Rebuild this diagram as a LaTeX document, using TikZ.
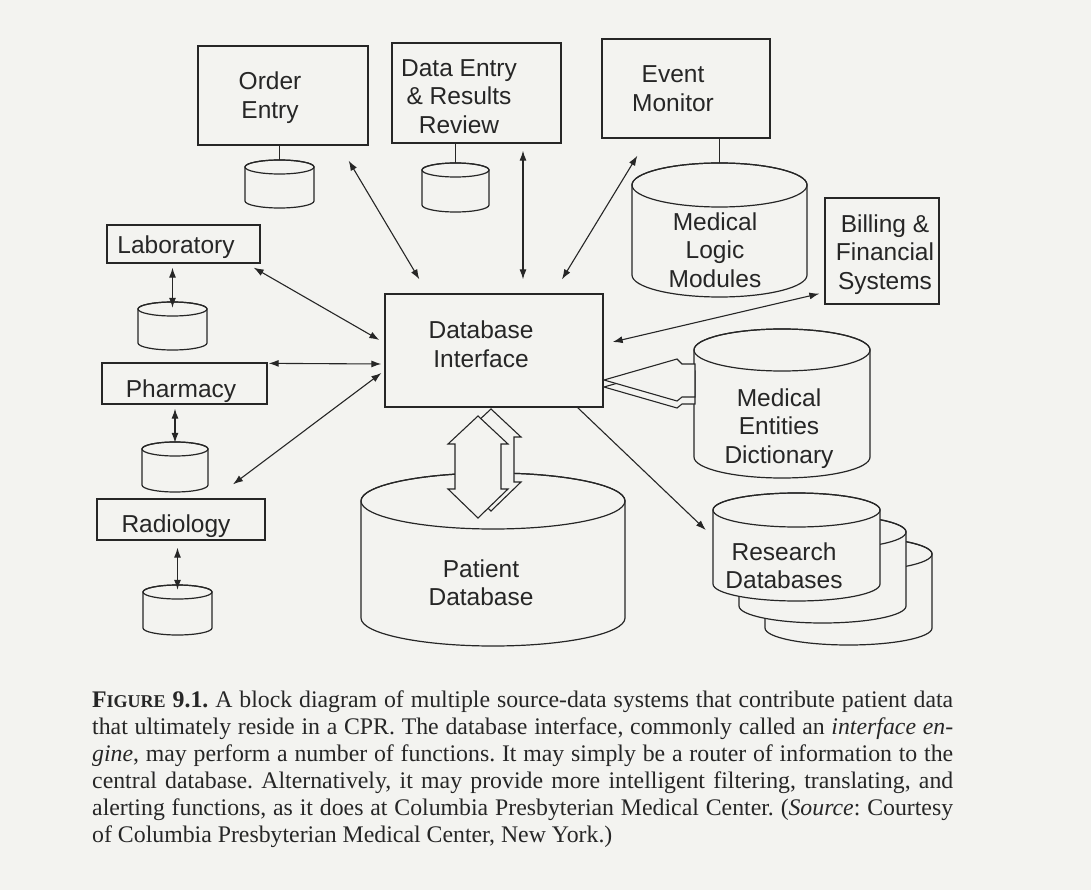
\documentclass[tikz,border=0pt]{standalone}
\usepackage{fontspec}
\setmainfont{Liberation Serif}
\setsansfont{Liberation Sans}
\usetikzlibrary{arrows.meta,calc}
\definecolor{paper}{RGB}{243,243,240}
\definecolor{ink}{RGB}{38,38,38}

% a drum-shaped data store: name, centre x, top rim y, bottom rim y, x radius, y radius
\newcommand\drum[6]{%
  \filldraw[draw=ink, line width=1.2pt, fill=paper]
    (#2-#5,#3) -- (#2-#5,#4)
    arc[start angle=180, end angle=360, x radius=#5pt, y radius=#6pt]
    -- (#2+#5,#3)
    arc[start angle=0, end angle=180, x radius=#5pt, y radius=#6pt] -- cycle;
  \draw[ink, line width=1.2pt] (#2,#3) ellipse[x radius=#5pt, y radius=#6pt];
  \node[inner sep=0pt, minimum width={2*#5}, minimum height={#4-#3+2*#6}]
    (#1) at (#2,{(#3+#4)/2}) {};
}
\newcommand\capline[1]{\makebox[861pt][s]{#1}}

\tikzset{
  box/.style={draw=ink, line width=1.3pt, inner sep=0pt},
  lbl/.style={font=\sffamily\fontsize{24.5}{28.5}\selectfont, text=ink,
              align=center, inner sep=0pt},
  link/.style={draw=ink, line width=1.1pt},
  both/.style={link, {Latex[length=10pt,width=7pt]}-{Latex[length=10pt,width=7pt]}},
  onto/.style={link, -{Latex[length=10pt,width=7pt]}},
  hollow/.style={draw=ink, line width=1.1pt, fill=paper, line join=miter},
}

\begin{document}
\frenchspacing
\begin{tikzpicture}[x=1pt,y=-1pt]
\fill[paper] (0,0) rectangle (1091,890);
\useasboundingbox (0,0) rectangle (1091,890);

% ---------- source systems ----------
\node[box, minimum width=170pt, minimum height=99pt]  (order) at (283,95.5) {};
\node[box, minimum width=169pt, minimum height=100pt] (der)   at (476.5,93) {};
\node[box, minimum width=168pt, minimum height=99pt]  (em)    at (686,88.5) {};
\node[box, minimum width=153pt, minimum height=38pt]  (lab)   at (183.5,244) {};
\node[box, minimum width=165pt, minimum height=41pt]  (ph)    at (184.5,383.5) {};
\node[box, minimum width=168pt, minimum height=41pt]  (rad)   at (181,519.5) {};
\node[box, minimum width=114pt, minimum height=106pt] (bill)  at (882,251) {};
\node[box, minimum width=218pt, minimum height=113pt] (dbi)   at (494,350.5) {};

% ---------- local stores ----------
\drum{c1}{279.5}{167}{201}{34.5}{7}
\drum{c2}{455.5}{170}{205}{33.5}{7}
\drum{mlm}{719.5}{185}{275}{87.5}{22}
\drum{c3}{172.5}{309}{343}{34.5}{7}
\drum{c4}{175}{449}{485}{33}{7}
\drum{c5}{177.5}{592}{628}{34.5}{7}
\drum{med}{782}{350}{457}{88}{21}
\drum{pdb}{493}{501}{618}{132}{28}
% research stores, back to front
\drum{res3}{848.5}{554}{628}{83.5}{17}
\drum{res2}{822.5}{532}{606}{83.5}{17}
\drum{res}{796.5}{510}{584}{83.5}{17}

% ---------- labels ----------
\node[lbl] (ordert) at (270,97.75)  {Order\\Entry};
\node[lbl] (dert)   at (459,96.5)   {Data Entry\\\& Results\\Review};
\node[lbl] (emt)    at (673,88.75)  {Event\\Monitor};
\node[lbl] (labt)   at (176,246.75) {Laboratory};
\node[lbl] (pht)    at (181,390.75) {Pharmacy};
\node[lbl] (radt)   at (176,525.75) {Radiology};
\node[lbl] (billt)  at (885,254.25) {Billing \&\\Financial\\Systems};
\node[lbl] (mlmt)   at (715,249.75) {Medical\\Logic\\Modules};
\node[lbl] (medt)   at (779,428.25) {Medical\\Entities\\Dictionary};
\node[lbl] (dbit)   at (481,344)    {Database\\Interface};
\node[lbl] (pdbt)   at (481,582.5)  {Patient\\Database};
\node[lbl] (rest)   at (784,565.5)  {Research\\Databases};

% ---------- store links ----------
\draw[link] (c1.north) -- (c1.north |- order.south);
\draw[link] (c2.north) -- (c2.north |- der.south);
\draw[link] (mlm.north) -- (mlm.north |- em.south);
\draw[both] ($(lab.south -| c3.north)+(0,4)$) -- ($(c3.north)+(0,6)$);
\draw[both] ($(ph.south -| c4.north)+(0,4)$)  -- ($(c4.north)+(0,1)$);
\draw[both] ($(rad.south -| c5.north)+(0,7)$) -- ($(c5.north)+(0,5)$);

% ---------- traffic through the interface ----------
\draw[both] ($(order.south east)+(-20,15)$) -- ($(dbi.north west)+(35,-14)$);
\draw[both] ($(der.south)+(46.5,7)$)       -- ($(dbi.north)+(29,-14)$);
\draw[both] ($(em.south west)+(36,17)$)    -- ($(dbi.north)+(68,-14)$);
\draw[both] ($(lab.south east)+(-7,4)$)    -- ($(dbi.west)+(-5,-10.5)$);
\draw[both] ($(ph.north east)+(1,1)$)      -- ($(dbi.west)+(-3,13.5)$);
\draw[both] ($(rad.north)+(52,-14)$)       -- ($(dbi.west)+(-3,22.5)$);
\draw[both] ($(bill.south west)+(-5,-11)$) -- ($(dbi.east)+(9,-8.5)$);
\draw[onto] ($(dbi.south east)+(-26,0)$)   -- ($(res.west)+(-7,-17)$);

% ---------- wide two-way channel to the patient database ----------
\begin{scope}[shift={(13,-7)}]
  \filldraw[hollow] (478,416) -- (508,444) -- (501,444) -- (501,489) -- (508,489)
    -- (478,518) -- (448,489) -- (455,489) -- (455,444) -- (448,444) -- cycle;
\end{scope}
\filldraw[hollow] (478,416) -- (508,444) -- (501,444) -- (501,489) -- (508,489)
  -- (478,518) -- (448,489) -- (455,489) -- (455,444) -- (448,444) -- cycle;

% ---------- wide channel from the dictionary ----------
\begin{scope}[shift={(0,7)}]
  \filldraw[hollow] (604,380) -- (677,359) -- (682,364) -- (695,364) -- (695,397)
    -- (682,397) -- (677,401) -- cycle;
\end{scope}
\filldraw[hollow] (604,380) -- (677,359) -- (682,364) -- (695,364) -- (695,397)
  -- (682,397) -- (677,401) -- cycle;

% ---------- caption ----------
\node[anchor=north west, inner sep=0pt, align=left, text=ink,
      font=\fontsize{23.8}{27}\selectfont] (cap) at (92,691) {%
\capline{\textbf{F{\fontsize{18}{27}\selectfont IGURE} 9.1.} A block diagram of multiple source-data systems that contribute patient data}\\
\capline{that ultimately reside in a CPR. The database interface, commonly called an \textit{interface en-}}\\
\capline{\textit{gine}, may perform a number of functions. It may simply be a router of information to the}\\
\capline{central database. Alternatively, it may provide more intelligent filtering, translating, and}\\
\capline{alerting functions, as it does at Columbia Presbyterian Medical Center. (\textit{Source}: Courtesy}\\
of Columbia Presbyterian Medical Center, New York.)};
\end{tikzpicture}
\end{document}
